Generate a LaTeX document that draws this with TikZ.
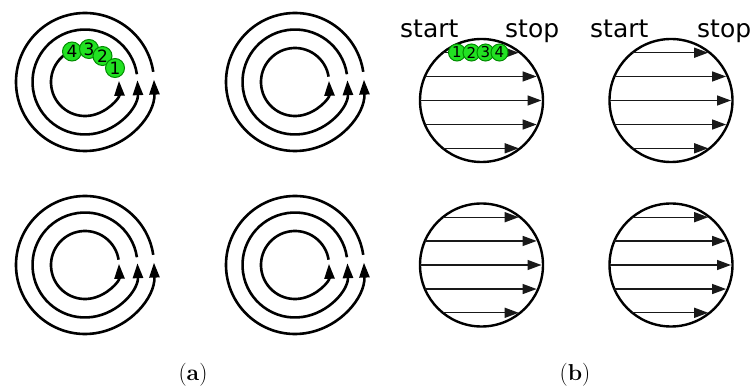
\documentclass[tikz,border=0pt]{standalone}
\usepackage{fontspec}
\newfontfamily\dejavu{DejaVu Sans}
\usetikzlibrary{arrows.meta}
\definecolor{ballfill}{RGB}{34,226,34}
\definecolor{balledge}{RGB}{0,140,0}
\begin{document}
\begin{tikzpicture}[x=1pt,y=-1pt,
  ring/.style={line width=2.6pt, -{Triangle[length=15pt,width=10pt]}},
  disk/.style={circle, draw, line width=2.4pt, minimum size=#1, inner sep=0pt, outer sep=0pt},
  ray/.style={line width=1.4pt, draw=black!90, -{Triangle[length=14pt,width=10pt]}, shorten >=1.5pt},
  ball/.style={circle, draw=balledge, fill=ballfill, line width=1pt, minimum size=#1, inner sep=0pt},
  word/.style={font=\dejavu\fontsize{25}{30}\selectfont, anchor=base west, inner sep=0pt},
  tag/.style={font=\fontsize{23}{27}\selectfont, anchor=base, inner sep=0pt}
]
\useasboundingbox (0,0) rectangle (753,390);

% spirals (a)
\foreach \cx/\cy/\n in {85/82/s1, 295/82/s2, 85/265/s3, 295/265/s4}{
  \coordinate (\n) at (\cx,\cy);
  \foreach \r/\a in {34/9, 52.5/8.5, 69/8.5}
    \draw[ring] (\n) ++(-\a:\r) arc[start angle=-\a, end angle=-362, radius=\r];
}

% green balls on first spiral
\begin{scope}[every node/.style={ball=19pt, font=\dejavu\fontsize{17}{20}\selectfont}]
  \node (ga4) at (72,51.5) {4};
  \node (ga3) at (89,49) {3};
  \node (ga2) at (102.5,56) {2};
  \node (ga1) at (115,68) {1};
\end{scope}

% disks (b)
\node[disk=123pt] (d1) at (481.5,100.5) {};
\node[disk=123pt] (d2) at (671,100.5) {};
\node[disk=123pt] (d3) at (481.5,265) {};
\node[disk=123pt] (d4) at (671,265) {};
\foreach \d in {1,2,3,4}
  \foreach \la/\ra in {129/51, 157/23, 180/0, 203/337, 231/309}
    \draw[ray] (d\d.\la) -- (d\d.\ra);

% green balls on first disk
\begin{scope}[every node/.style={ball=17pt, font=\dejavu\fontsize{15}{18}\selectfont}]
  \node (gb1) at (457,52.5) {1};
  \node (gb2) at (471.5,52.5) {2};
  \node (gb3) at (485.5,52.5) {3};
  \node (gb4) at (499.5,52.5) {4};
\end{scope}

% start / stop
\node[word] (st1) at (400,38) {start};
\node[word] (sp1) at (505,38) {stop};
\node[word] (st2) at (590,38) {start};
\node[word] (sp2) at (697,38) {stop};

% labels
\node[tag] (la) at (193,381) {(\textbf{a})};
\node[tag] (lb) at (575,381) {(\textbf{b})};
\end{tikzpicture}
\end{document}
